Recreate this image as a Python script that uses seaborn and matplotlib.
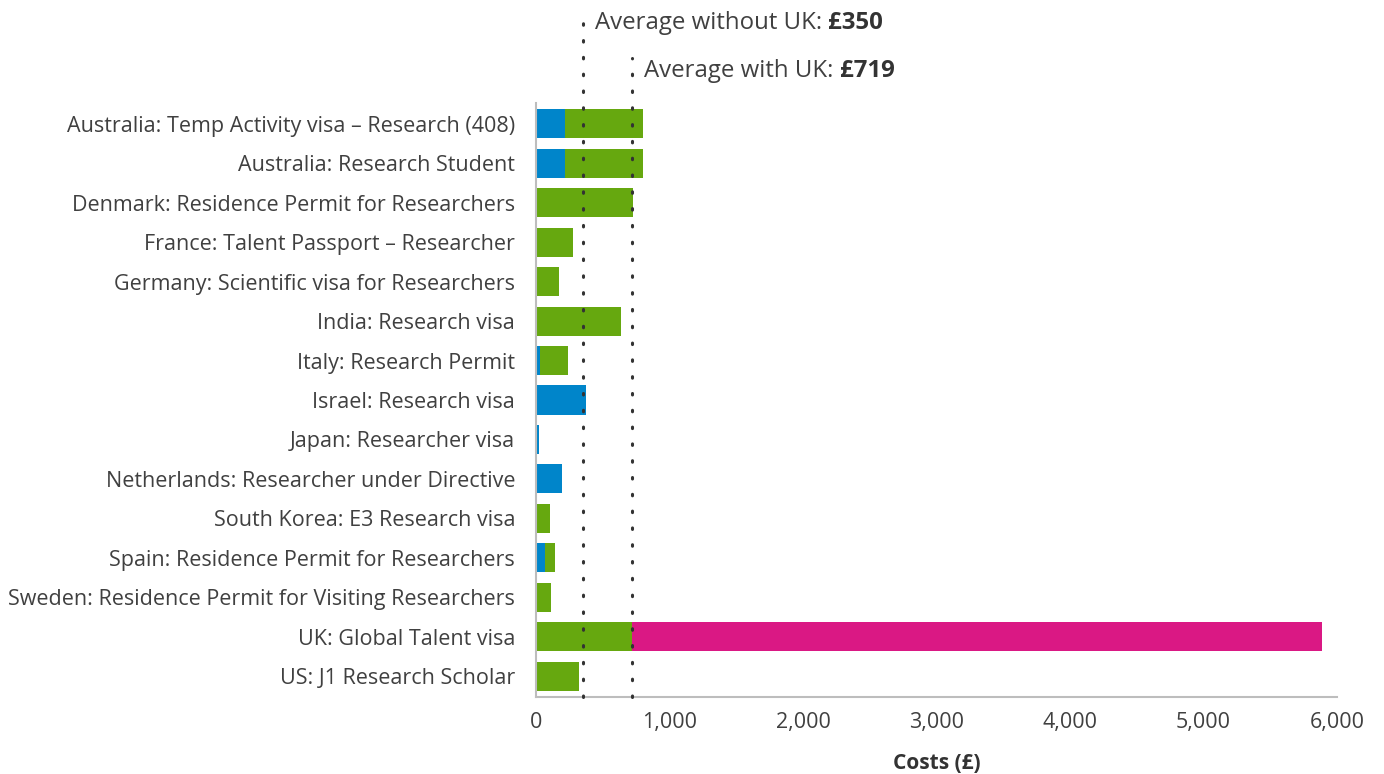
import matplotlib
matplotlib.use("Agg")
import matplotlib.pyplot as plt
import seaborn as sns
import pandas as pd
import numpy as np

categories = [
    "Australia: Temp Activity visa \u2013 Research (408)",
    "Australia: Research Student",
    "Denmark: Residence Permit for Researchers",
    "France: Talent Passport \u2013 Researcher",
    "Germany: Scientific visa for Researchers",
    "India: Research visa",
    "Italy: Research Permit",
    "Israel: Research visa",
    "Japan: Researcher visa",
    "Netherlands: Researcher under Directive",
    "South Korea: E3 Research visa",
    "Spain: Residence Permit for Researchers",
    "Sweden: Residence Permit for Visiting Researchers",
    "UK: Global Talent visa",
    "US: J1 Research Scholar",
]
blue_cost = [220, 220, 0, 0, 0, 0, 30, 377, 25, 197, 0, 70, 0, 0, 0]
green_cost = [584, 584, 729, 279, 174, 639, 212, 0, 0, 0, 107, 75, 115, 721, 324]
pink_cost = [0] * 13 + [5169, 0]
avg_values = [350, 719]
avg_labels = ["Average without UK: ", "Average with UK: "]
avg_bold = ["\u00a3350", "\u00a3719"]
x_ticks = [0, 1000, 2000, 3000, 4000, 5000, 6000]

sns.set_theme(style="white")
plt.rcParams["font.family"] = ["Open Sans", "DejaVu Sans"]

df = pd.DataFrame({"cat": categories, "blue": blue_cost, "green": green_cost, "pink": pink_cost})
df["c1"] = df["blue"]
df["c2"] = df["blue"] + df["green"]
df["c3"] = df["c2"] + df["pink"]

fig = plt.figure(figsize=(13.84, 7.74), dpi=100)
ax = fig.add_axes([536 / 1384, 1 - 697 / 774, (1337 - 536) / 1384, 594 / 774])

BLUE = "#0085CA"
GREEN = "#66A80F"
PINK = "#DA1884"
TXT = "#404040"
w = 0.74
sns.barplot(data=df, x="c3", y="cat", orient="h", color=PINK, saturation=1, width=w, ax=ax)
sns.barplot(data=df, x="c2", y="cat", orient="h", color=GREEN, saturation=1, width=w, ax=ax)
sns.barplot(data=df, x="c1", y="cat", orient="h", color=BLUE, saturation=1, width=w, ax=ax)
for p in ax.patches:
    p.set_linewidth(0)

ax.set_xlim(0, 6000)
ax.set_ylim(14.53, -0.53)
ax.set_xticks(x_ticks)
ax.set_xticklabels([f"{v:,}" for v in x_ticks])
ax.set_ylabel("")
ax.set_xlabel("Costs (\u00a3)", fontsize=15, fontweight="bold", color="#333333", labelpad=14)

for s in ["top", "right"]:
    ax.spines[s].set_visible(False)
for s in ["left", "bottom"]:
    ax.spines[s].set_color("#BDBDBD")
    ax.spines[s].set_linewidth(1.5)
ax.tick_params(axis="both", colors="#BDBDBD", length=7, width=1.2, labelcolor=TXT, labelsize=15.5)
ax.tick_params(axis="x", pad=4)
ax.tick_params(axis="y", pad=8)

tops = [1.157, 1.076]
for v, top, lab, bold in zip(avg_values, tops, avg_labels, avg_bold):
    ax.plot([v, v], [0, top], transform=ax.get_xaxis_transform(), color="#333333",
            linestyle=(0, (0.5, 5)), linewidth=2.2, dash_capstyle="round", clip_on=False, zorder=5)
    t = ax.text(v + 90, top - 0.022, lab, transform=ax.get_xaxis_transform(), fontsize=17.3,
                color=TXT, va="center", ha="left")
    ax.annotate(bold, xy=(1, 0), xycoords=t, va="bottom", ha="left", fontsize=17.3,
                fontweight="bold", color="#333333")

fig.savefig("out.png", dpi=100)
